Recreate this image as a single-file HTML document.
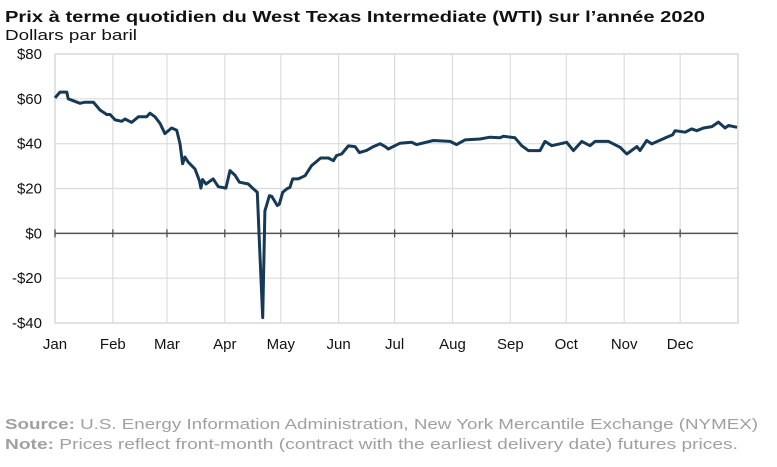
<!DOCTYPE html>
<html><head><meta charset="utf-8"><style>
html,body{margin:0;padding:0;background:#fff;}
svg{display:block;font-family:"Liberation Sans",Arial,sans-serif;}
</style></head><body>
<svg id="chart" width="777" height="467" viewBox="0 0 777 467">
<text x="5" y="22" font-size="16" font-weight="bold" fill="#111" textLength="700" lengthAdjust="spacingAndGlyphs">Prix à terme quotidien du West Texas Intermediate (WTI) sur l’année 2020</text>
<text x="5" y="40" font-size="15" fill="#111" textLength="132" lengthAdjust="spacingAndGlyphs">Dollars par baril</text>
<g id="grid"></g>
<g id="axes"></g>
<path id="line" fill="none" stroke="#163a56" stroke-width="3" stroke-linejoin="round"/>
<text x="5" y="429" font-size="15" fill="#a0a0a0" textLength="753" lengthAdjust="spacingAndGlyphs"><tspan font-weight="bold">Source:</tspan> U.S. Energy Information Administration, New York Mercantile Exchange (NYMEX)</text>
<text x="5" y="449" font-size="15" fill="#a0a0a0" textLength="733" lengthAdjust="spacingAndGlyphs"><tspan font-weight="bold">Note:</tspan> Prices reflect front-month (contract with the earliest delivery date) futures prices.</text>
</svg>
<script>
const monthLabels=["Jan","Feb","Mar","Apr","May","Jun","Jul","Aug","Sep","Oct","Nov","Dec"];
const monthStartDays=[0,31,60,91,121,152,182,213,244,274,305,335];
const yTicks=[80,60,40,20,0,-20,-40];
const days=[0,2.7,6.3,7.1,13.4,16.1,20.6,24.1,27.7,29.5,32.2,35.8,37.5,41.1,44.7,49.1,50.9,53.6,56.3,58.9,62.5,65.2,67,68.4,69.6,71.5,75,77.4,78.2,79.1,80.9,84.8,87.5,91.6,93.8,96.4,98.8,103.6,106.3,108.4,109.5,111.3,112.5,114.9,116.1,119.1,120.2,122,124.2,125.9,127.4,130.4,134,137.5,142.4,146.5,149.2,150.9,153.6,157.2,160.8,163.1,167,170.6,174.2,176.9,178.6,184.9,191.1,193.8,202.8,211.7,215.2,219.7,227.7,233.1,238.5,240.3,246.5,250.1,253.7,259.9,262.6,266.2,274.2,277.8,282.3,286.7,289.4,296.6,302.8,306.4,311.8,313.5,317.1,319.8,327.8,331,332.3,337.7,341.2,343.9,347.5,352,355.5,359.1,360.9,365.5];
const prices=[60.4,63,63,60,58,58.5,58.5,55,53,53,50.6,50,51,49.5,52,52,53.6,52,49,44.5,47,46,40,31,34,31.7,28.7,23.5,20.2,24,22,24.3,20.8,20.2,28,26,22.8,22,19.8,18.3,-3,-37.6,10,16.8,16.5,12.4,13,18.3,19.8,20.5,24.3,24.3,25.7,30.2,33.6,33.6,32.4,34.7,35.4,39,38.7,36,37,38.7,40,38.7,37.6,40.2,40.6,39.6,41.4,41,39.6,41.7,42.1,42.9,42.6,43.3,42.6,39.1,36.9,36.9,41,39.1,40.6,36.9,41,39.1,41,41,38.4,35.4,38.7,36.9,41.4,39.9,42.9,44,45.8,45.1,46.6,45.8,47,47.6,49.6,47,48.1,47.3];
const X0=55,X1=738,Y0=54,Y1=323;
const xS=d=>X0+d*(X1-X0)/366;
const yS=v=>Y0+(80-v)*(Y1-Y0)/120;
const NS="http://www.w3.org/2000/svg";
const grid=document.getElementById('grid'),axes=document.getElementById('axes');
function mk(tag,attrs,parent){const e=document.createElementNS(NS,tag);for(const k in attrs)e.setAttribute(k,attrs[k]);parent.appendChild(e);return e;}
// frame
const fr=mk('rect',{x:X0,y:Y0,width:X1-X0,height:Y1-Y0,fill:'none',stroke:'#d9d9d9','stroke-width':1.5},grid);


yTicks.forEach(v=>{
  const l=mk('line',{x1:X0,x2:X1,y1:yS(v),y2:yS(v),stroke:'#dcdcdc','stroke-width':1.2},grid);
  
  
  const t=mk('text',{x:42,y:yS(v)+5,'text-anchor':'end','font-size':15,fill:'#111'},axes);
  t.textContent=(v<0?'-$':'$')+Math.abs(v);
  
  
});
monthStartDays.forEach((d,i)=>{
  const x=xS(d);
  const g=mk('line',{x1:x,x2:x,y1:Y0,y2:Y1,stroke:'#dcdcdc','stroke-width':1.2},grid);
  
  
  const tk=mk('line',{x1:x,x2:x,y1:yS(0)-4,y2:yS(0)+4,stroke:'#444','stroke-width':1.2},axes);
  
  
  const t=mk('text',{x:x,y:349,'text-anchor':'middle','font-size':15,fill:'#111'},axes);
  t.textContent=monthLabels[i];
  
  
});
const zl=mk('line',{x1:X0,x2:X1,y1:yS(0),y2:yS(0),stroke:'#555','stroke-width':1.5},axes);


document.getElementById('line').setAttribute('d',days.map((d,i)=>(i?'L':'M')+xS(d).toFixed(1)+' '+yS(prices[i]).toFixed(1)).join(' '));
</script>
</body></html>
